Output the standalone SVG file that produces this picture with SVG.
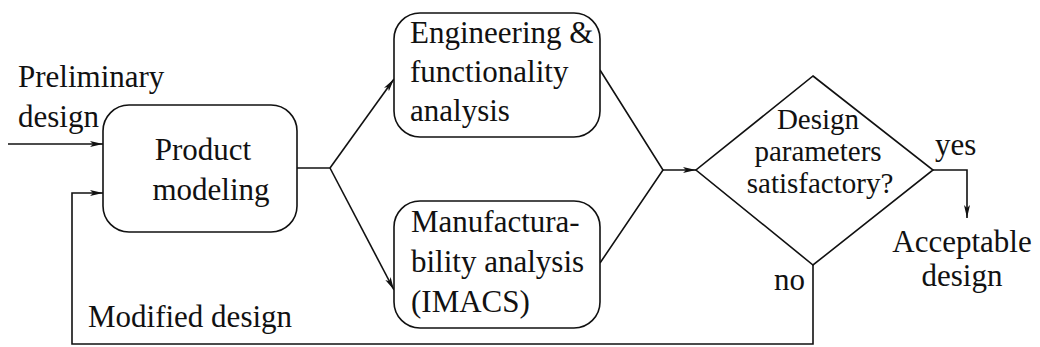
<svg xmlns="http://www.w3.org/2000/svg" width="1040" height="347" viewBox="0 0 1040 347">
  <defs>
    <marker id="arrow" markerWidth="14" markerHeight="8" refX="13" refY="4" orient="auto" markerUnits="userSpaceOnUse">
      <path d="M0,1 L13,4 L0,7 L3,4 Z" fill="#111"/>
    </marker>
    <style>
      .box { fill: #fff; stroke: #111; stroke-width: 1.6; }
      .line { fill: none; stroke: #111; stroke-width: 1.6; }
      .arr { fill: none; stroke: #111; stroke-width: 1.6; marker-end: url(#arrow); }
      text { font-family: "Liberation Serif", "Times New Roman", "DejaVu Serif", serif; font-size: 31px; fill: #111; }
      .c { text-anchor: middle; }
      .d { font-size: 29px; }
    </style>
  </defs>
  <rect width="1040" height="347" fill="#fff"/>

  <!-- connectors -->
  <g id="connectors">
    <!-- incoming preliminary design -->
    <line class="arr" x1="8" y1="144" x2="103" y2="144"/>
    <!-- feedback loop: no branch back to product modeling -->
    <polyline class="arr" points="813,265 813,344 72,344 72,193 103,193"/>
    <!-- split to the two analyses -->
    <line class="line" x1="297" y1="168" x2="330" y2="168"/>
    <line class="arr" x1="330" y1="168" x2="394" y2="79"/>
    <line class="arr" x1="330" y1="168" x2="394" y2="290"/>
    <!-- merge into decision -->
    <polyline class="line" points="600,70 663,170 600,263"/>
    <line class="arr" x1="663" y1="170" x2="696" y2="170"/>
    <!-- yes branch -->
    <polyline class="arr" points="933,170 967,170 967,218"/>
  </g>

  <g id="preliminary-label">
    <text x="18" y="87">Preliminary</text>
    <text x="18" y="127">design</text>
  </g>

  <g id="product-modeling">
    <rect class="box" x="103" y="105" width="194" height="127" rx="26" ry="26"/>
    <text class="c" x="203" y="160">Product</text>
    <text class="c" x="211" y="200">modeling</text>
  </g>

  <g id="engineering-analysis">
    <rect class="box" x="394" y="13" width="206" height="124" rx="26" ry="26"/>
    <text x="410" y="43">Engineering &amp;</text>
    <text x="410" y="82">functionality</text>
    <text x="410" y="121">analysis</text>
  </g>

  <g id="manufacturability-analysis">
    <rect class="box" x="394" y="201" width="206" height="127" rx="26" ry="26"/>
    <text x="411" y="232">Manufactura-</text>
    <text x="411" y="272">bility analysis</text>
    <text x="411" y="312">(IMACS)</text>
  </g>

  <g id="decision">
    <polygon class="box" points="813,76 933,170 813,265 696,170"/>
    <text class="c d" x="818" y="129">Design</text>
    <text class="c d" x="818" y="161">parameters</text>
    <text class="c d" x="820" y="193">satisfactory?</text>
  </g>

  <g id="branch-labels">
    <text x="935" y="155">yes</text>
    <text x="774" y="290">no</text>
    <text x="88" y="327">Modified design</text>
  </g>

  <g id="acceptable-design">
    <text class="c" x="962" y="252">Acceptable</text>
    <text class="c" x="962" y="286">design</text>
  </g>
</svg>
